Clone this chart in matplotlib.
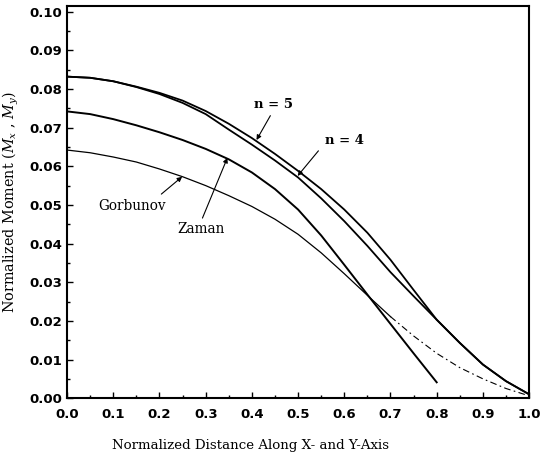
import matplotlib
matplotlib.use('Agg')
import matplotlib.pyplot as plt
from matplotlib.ticker import MultipleLocator

plt.rcParams['mathtext.fontset'] = 'dejavuserif'

# Distancia normalizada (puntos leídos cada 0.05)
x = [0.00, 0.05, 0.10, 0.15, 0.20, 0.25, 0.30, 0.35, 0.40, 0.45, 0.50,
     0.55, 0.60, 0.65, 0.70, 0.75, 0.80, 0.85, 0.90, 0.95, 1.00]

# Momento normalizado para cada solución
n5 = [0.0832, 0.0829, 0.0820, 0.0806, 0.0790, 0.0770, 0.0743, 0.0710, 0.0673, 0.0632, 0.0588,
      0.0541, 0.0488, 0.0428, 0.0358, 0.0280, 0.0203, 0.0143, 0.0087, 0.0044, 0.0010]
n4 = [0.0832, 0.0829, 0.0820, 0.0805, 0.0787, 0.0764, 0.0735, 0.0695, 0.0656, 0.0615, 0.0571,
      0.0517, 0.0458, 0.0394, 0.0326, 0.0264, 0.0203, 0.0143, 0.0087, 0.0044, 0.0010]
gorbunov = [0.0642, 0.0635, 0.0624, 0.0611, 0.0593, 0.0573, 0.0550, 0.0524, 0.0496, 0.0463, 0.0424,
            0.0376, 0.0322, 0.0266, 0.0211, 0.0161, 0.0116, 0.0079, 0.0050, 0.0025, 0.0006]
# Zaman termina en x = 0.8
x_zaman = [0.00, 0.05, 0.10, 0.15, 0.20, 0.25, 0.30, 0.35, 0.40, 0.45, 0.50,
           0.55, 0.60, 0.65, 0.70, 0.75, 0.80]
zaman = [0.0742, 0.0735, 0.0722, 0.0706, 0.0688, 0.0668, 0.0645, 0.0618, 0.0584, 0.0541, 0.0488,
         0.0421, 0.0345, 0.0268, 0.0192, 0.0116, 0.0041]
# Gorbunov continúa con línea de trazo y punto a partir de aquí
gorb_corte = 14

xt = [0.0, 0.1, 0.2, 0.3, 0.4, 0.5, 0.6, 0.7, 0.8, 0.9, 1.0]
yt = [0.00, 0.01, 0.02, 0.03, 0.04, 0.05, 0.06, 0.07, 0.08, 0.09, 0.10]

fig = plt.figure(figsize=(5.41, 4.54), dpi=100)
ax = fig.add_axes([0.124, 0.123, 0.854, 0.864])

ax.plot(x, n5, '-', color='k', linewidth=1.3)
ax.plot(x, n4, '-', color='k', linewidth=1.3)
ax.plot(x_zaman, zaman, '-', color='k', linewidth=1.4)
ax.plot(x[:gorb_corte + 1], gorbunov[:gorb_corte + 1], '-', color='k', linewidth=0.9)
ax.plot(x[gorb_corte:], gorbunov[gorb_corte:], '-.', color='k', linewidth=0.8,
        dashes=(6, 3, 1.5, 3))

ax.set_xlim(0, 1.0)
ax.set_ylim(0, 0.1015)
ax.set_xticks(xt)
ax.set_yticks(yt)
ax.set_xticklabels(['%.1f' % v for v in xt])
ax.set_yticklabels(['%.2f' % v for v in yt])
ax.xaxis.set_minor_locator(MultipleLocator(0.05))
ax.yaxis.set_minor_locator(MultipleLocator(0.005))
ax.tick_params(which='both', direction='in', top=False, right=False, width=1.0)
ax.tick_params(which='major', length=4)
ax.tick_params(which='minor', length=2.5)
ax.tick_params(axis='x', pad=7)
ax.tick_params(axis='y', pad=3.5)
for lab in ax.get_xticklabels() + ax.get_yticklabels():
    lab.set_fontfamily('DejaVu Sans')
    lab.set_fontweight('bold')
    lab.set_fontsize(9.5)
for s in ax.spines.values():
    s.set_linewidth(1.5)

serif = 'DejaVu Serif'
ax.set_xlabel('Normalized Distance Along X- and Y-Axis', fontfamily=serif, fontsize=9.6)
ax.xaxis.set_label_coords(0.396, -0.105)
ax.set_ylabel(r'Normalized Moment ($\overline{M}_x$ , $\overline{M}_y$)', fontfamily=serif,
              fontsize=10.4)
ax.yaxis.set_label_coords(-0.099, 0.5)

flecha = dict(arrowstyle='-|>', color='k', lw=0.8, mutation_scale=7, shrinkA=0, shrinkB=0)
ax.annotate('', xy=(0.410, 0.0668), xytext=(0.440, 0.0731), arrowprops=flecha)
ax.text(0.447, 0.0759, 'n = 5', fontfamily=serif, fontweight='bold', fontsize=9.5,
        ha='center', va='center')
ax.annotate('', xy=(0.499, 0.0575), xytext=(0.544, 0.0640), arrowprops=flecha)
ax.text(0.601, 0.0666, 'n = 4', fontfamily=serif, fontweight='bold', fontsize=9.5,
        ha='center', va='center')
ax.annotate('', xy=(0.249, 0.0573), xytext=(0.204, 0.0528), arrowprops=flecha)
ax.text(0.141, 0.0497, 'Gorbunov', fontfamily=serif, fontsize=9.8, ha='center', va='center')
ax.annotate('', xy=(0.347, 0.0622), xytext=(0.293, 0.0466), arrowprops=flecha)
ax.text(0.291, 0.0438, 'Zaman', fontfamily=serif, fontsize=9.8, ha='center', va='center')

plt.savefig('out.png', dpi=100)
